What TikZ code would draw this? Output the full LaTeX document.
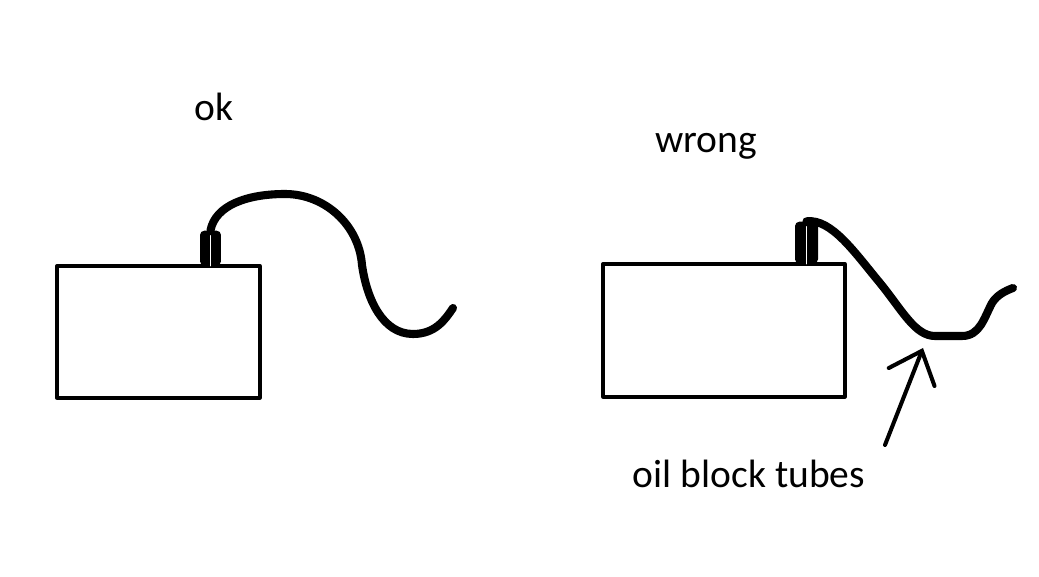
\documentclass[tikz,border=0pt]{standalone}
\usepackage{fontspec}
\setmainfont{Carlito}
\usetikzlibrary{arrows.meta}
\begin{document}
\begin{tikzpicture}[x=.02cm,y=-.02cm,line join=round,line cap=round,
 font=\fontsize{22.5}{27}\selectfont,
 box/.style={draw,line width=1.9pt,inner sep=0pt},
 plug/.style={fill=black,rounded corners=2.5pt,inner sep=0pt},
 cable/.style={line width=4.6pt},
 pointer/.style={line width=2.3pt,-{Straight Barb[length=16pt,width=28pt,line cap=round]}}]
 \useasboundingbox (0,0) rectangle (1039,577);
 % ok
 \node[anchor=base] (okl) at (214,121) {ok};
 \node[box,minimum width=4.06cm,minimum height=2.64cm] (lbox) at (158.5,332) {};
 \node[plug,minimum width=.42cm,minimum height=.7cm,anchor=south] (lplug) at (210.5,266) {};
 \draw[white,line width=.5pt] ([yshift=-3pt]lplug.north) -- (lplug.south);
 \coordinate (lend) at (453,308);
 \draw[cable] (lplug.north)
 ..controls +(5,-25) and +(-38,0)..(285,194)
 ..controls +(40,0) and +(-3,-40)..(362,265)
 ..controls +(5,35) and +(-30,0)..(413,334)
 ..controls +(22,0) and +(-8,12)..(lend);
 % wrong
 \node[anchor=base] (wrongl) at (706,153) {wrong};
 \node[box,minimum width=4.84cm,minimum height=2.66cm] (rbox) at (724,330.5) {};
 \node[plug,minimum width=.46cm,minimum height=.84cm,anchor=south] (rplug) at (806.5,264) {};
 \draw[white,line width=.5pt] ([yshift=-3pt]rplug.north) -- (rplug.south);
 \coordinate (rend) at (1013,288);
 \draw[cable] (rplug.north)
 ..controls +(25,-3) and +(-25,-30)..(880,283)
 ..controls +(22,27) and +(-20,0)..(935,336)
 --(962,336)
 ..controls +(18,0) and +(-8,15)..(992,303)
 ..controls +(5,-8) and +(-8,3)..(rend);
 \node[anchor=base] (tubesl) at (749,488) {oil block tubes};
 \coordinate (tail) at (885,445);
 \coordinate (tip) at (923,348);
 \draw[pointer] (tail) -- (tip);
\end{tikzpicture}
\end{document}
